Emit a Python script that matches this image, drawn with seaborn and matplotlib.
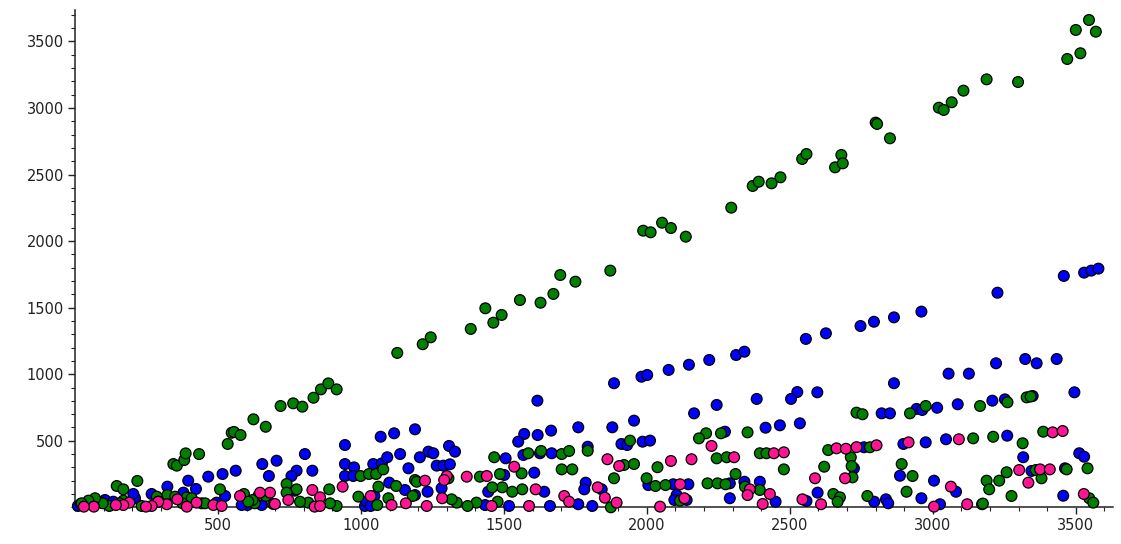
import numpy as np
import pandas as pd
import matplotlib
matplotlib.use("Agg")
import matplotlib.pyplot as plt
from matplotlib.ticker import FixedLocator, MultipleLocator, FuncFormatter
import seaborn as sns

# ---------------- data ----------------
green_x = [146,169,218,344,356,382,387,434,534,548,556,579,624,667,719,763,795,834,860,886,915,
           1127,1216,1244,1384,1435,1463,1492,1556,1628,1673,1697,1750,1872,1987,2013,2053,2084,2136,
           2295,2370,2391,2436,2467,2543,2558,2658,2680,2685,2800,2805,2850,3021,3038,3066,3107,3188,
           3298,3470,3516,3500,3546,3570,
           2733,2754,2920,2975,3165,3261,3328,3342,3386,3141,3211,3314,3541,3468,2634,2780,2713,2716,
           2719,2620,2479,2395,2418,2395,2652,2675,2667,2771,2891,2929,2908,3172,3175,3188,3197,3232,
           3258,3275,3360,3380,3547,3561,
           2352,2259,2207,2182,1941,1585,1630,1702,1728,1793,1466,1920,1955,2244,2279,2037,1702,1739,
           1562,1486,1416,1189,1306,2310,2343,2212,2247,2275,1999,2030,2065,2116,1885,1874,1564,1529,
           1494,1459,1478,1404,1373,1335,1317,
           999,1028,1053,1078,1061,1123,1195,991,1057,1096,1181,915,892,889,816,740,775,740,787,641,
           668,629,693,621,591,606,507,443,455,391,408,376,323,350,286,291,233,169,157,120,97,70,47,23]
green_y = [160,135,198,325,313,355,405,400,476,560,566,543,661,605,761,781,756,823,886,931,886,
           1160,1225,1277,1340,1495,1387,1445,1557,1537,1603,1745,1695,1778,2078,2066,2138,2098,2033,
           2251,2414,2446,2434,2479,2617,2654,2554,2647,2584,2890,2880,2772,3002,2985,3043,3130,3215,
           3195,3368,3411,3586,3661,3573,
           711,699,706,761,761,789,826,832,568,518,530,481,293,285,430,451,376,310,
           225,305,285,406,406,130,100,75,42,85,325,235,117,23,28,200,135,200,
           263,85,280,218,68,35,
           563,556,556,518,501,406,423,400,423,425,376,318,325,368,376,301,285,285,
           255,250,230,205,218,250,155,180,180,173,218,160,167,50,218,0,135,117,
           150,150,42,35,10,35,60,
           235,250,250,285,155,160,192,80,17,68,85,10,30,135,35,175,135,110,42,85,
           85,30,25,55,100,42,135,30,30,75,68,30,92,80,80,42,10,50,30,10,30,68,50,30]

blue_x = [1617,1885,1981,2001,2076,2147,2218,2312,2341,2384,2165,2244,2556,2626,2747,2794,2864,2960,
          3226,3458,3529,3554,3579,2596,2526,2504,2864,3055,3126,3221,3323,3363,3433,3495,
          2821,2850,2943,2963,3015,3087,3208,3252,3349,2415,2465,2535,2975,3046,3260,2897,3316,3512,
          3529,3462,2759,2724,2395,2450,2558,2597,2795,2836,2844,2885,2960,3004,3025,3081,3345,3456,
          1189,1955,1760,1879,1665,1571,1550,1618,2273,1911,1931,1985,2011,1308,1329,1236,1253,1206,
          1265,1288,1311,1568,1626,1667,1793,1506,1606,1501,2341,2290,2290,2005,2092,2145,2104,2096,
          2139,1786,1781,1842,1809,1760,1661,1641,1518,1445,1434,1282,1233,1189,
          944,1069,1116,804,705,655,830,562,516,466,396,323,678,775,757,944,976,944,973,1043,1073,
          1092,1137,1166,1099,1154,1047,1014,1020,1034,769,653,603,583,525,495,423,379,268,210,204,
          105,93,134,10,20]
blue_y = [801,932,981,994,1032,1071,1107,1144,1169,814,706,769,1265,1307,1362,1394,1427,1470,
          1612,1738,1763,1778,1793,864,866,814,932,1004,1004,1082,1114,1082,1114,864,
          706,706,739,731,748,774,801,811,836,598,616,631,488,511,538,476,376,406,
          380,293,451,293,192,42,47,110,42,60,30,237,68,200,23,117,273,87,
          586,651,601,601,576,551,493,543,568,476,468,493,501,461,418,418,406,376,
          313,313,323,393,406,406,455,368,260,243,192,68,180,167,173,173,92,55,
          55,185,135,135,10,23,10,117,10,117,17,143,117,92,
          468,530,556,400,350,325,275,275,250,230,200,155,235,275,235,325,300,235,235,325,330,
          376,400,293,185,130,85,10,42,10,125,17,17,17,85,35,138,110,100,68,100,
          55,35,42,10,25]

pink_x = [3419,3454,3091,2915,2663,2696,2733,2803,2693,2588,2444,2479,2430,2405,2544,2609,3004,
          3063,3120,3302,3334,3375,3409,3528,
          1862,1903,2084,2156,2226,2305,1536,1370,1440,1224,1300,1291,2360,2352,2116,2131,2046,
          1828,1853,1894,1711,1728,1588,1611,1457,1284,1230,
          936,1034,1107,1157,830,857,838,857,746,682,647,577,699,484,513,425,391,358,321,291,268,
          248,190,169,143,66,31]
pink_y = [563,573,511,488,443,440,452,466,218,218,406,413,100,25,60,23,5,
          155,23,280,185,285,285,100,
          361,310,348,361,461,376,305,230,235,200,235,205,135,92,173,68,5,
          150,72,35,85,42,10,135,10,68,10,
          155,85,17,30,130,75,5,10,55,110,110,85,25,17,10,35,5,60,23,42,10,
          5,35,17,17,5,5]

series_names = ["blue", "green", "pink"]
palette = {"blue": "#0000ff", "green": "#008000", "pink": "#ff1493"}

df = pd.concat([
    pd.DataFrame({"x": blue_x, "y": blue_y, "s": "blue"}),
    pd.DataFrame({"x": green_x, "y": green_y, "s": "green"}),
    pd.DataFrame({"x": pink_x, "y": pink_y, "s": "pink"}),
], ignore_index=True)

# ---------------- plot ----------------
sns.set_style("white")
plt.rcParams["font.family"] = ["DejaVu Sans"]

fig = plt.figure(figsize=(11.21, 5.44), dpi=100)
ax = fig.add_axes([75 / 1121, 1 - 507.3 / 544, (1113 - 75) / 1121, (507.3 - 10) / 544])

sns.scatterplot(data=df, x="x", y="y", hue="s", hue_order=series_names, palette=palette,
                s=60, edgecolor="black", linewidth=0.9, legend=False, ax=ax, clip_on=False,
                zorder=3)

ax.set_xlim(0, 3630)
ax.set_ylim(0, 3736)
ax.set_xlabel("")
ax.set_ylabel("")

for side in ["top", "right"]:
    ax.spines[side].set_visible(False)
for side in ["left", "bottom"]:
    ax.spines[side].set_color("#222222")
    ax.spines[side].set_linewidth(1.1)
    ax.spines[side].set_zorder(2)

major = [500, 1000, 1500, 2000, 2500, 3000, 3500]
ax.xaxis.set_major_locator(FixedLocator(major))
ax.yaxis.set_major_locator(FixedLocator(major))
ax.xaxis.set_minor_locator(MultipleLocator(100))
ax.yaxis.set_minor_locator(MultipleLocator(100))
fmt = FuncFormatter(lambda v, p: f"{int(v)}")
ax.xaxis.set_major_formatter(fmt)
ax.yaxis.set_major_formatter(fmt)

ax.tick_params(which="major", direction="out", length=5, width=1.0, color="#222222",
               labelsize=10.5, labelcolor="#222222", pad=3, bottom=True, left=True)
ax.tick_params(which="minor", direction="out", length=3, width=0.8, color="#222222",
               bottom=True, left=True)

fig.savefig("out.png", dpi=100)
